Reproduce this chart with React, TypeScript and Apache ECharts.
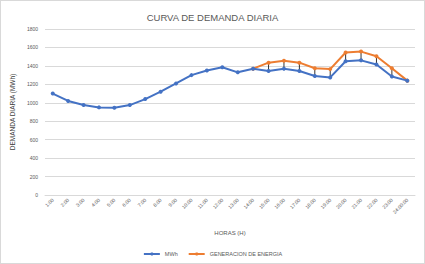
import React, { useEffect, useRef } from "react";
import * as echarts from "echarts";

const categories = [
  "1:00", "2:00", "3:00", "4:00", "5:00", "6:00", "7:00", "8:00", "9:00", "10:00",
  "11:00", "12:00", "13:00", "14:00", "15:00", "16:00", "17:00", "18:00", "19:00",
  "20:00", "21:00", "22:00", "23:00", "24:00:00",
];
const mwh = [
  1100, 1020, 975, 950, 945, 975, 1040, 1120, 1210, 1300, 1350, 1385, 1330, 1370,
  1345, 1370, 1345, 1290, 1275, 1450, 1460, 1415, 1285, 1240,
];
const generacion = [
  null, null, null, null, null, null, null, null, null, null, null, null, null, 1370,
  1435, 1455, 1435, 1375, 1365, 1545, 1555, 1505, 1375, 1240,
];
const yTicks = { min: 0, max: 1800, interval: 200 };

export default function App() {
  const ref = useRef<HTMLDivElement>(null);
  useEffect(() => {
    if (!ref.current) return;
    const chart = echarts.init(ref.current, null, { renderer: "svg" });
    const dropData = categories
      .map((_, i) => [i, mwh[i], generacion[i]])
      .filter((d) => d[2] != null);
    chart.setOption({
      animation: false,
      backgroundColor: "#ffffff",
      title: {
        text: "CURVA DE DEMANDA DIARIA",
        left: "center",
        top: 6,
        textStyle: { fontFamily: "Liberation Sans", fontSize: 9.5, fontWeight: "normal", color: "#595959" },
      },
      legend: {
        bottom: 1,
        left: "center",
        itemWidth: 16,
        itemHeight: 4,
        itemGap: 10,
        textStyle: { fontFamily: "Liberation Sans", fontSize: 5.5, color: "#595959" },
        data: ["MWh", "GENERACION DE ENERGIA"],
      },
      grid: { left: 42, right: 9, top: 28, bottom: 68 },
      xAxis: {
        type: "category",
        data: categories,
        boundaryGap: true,
        name: "HORAS (H)",
        nameLocation: "middle",
        nameGap: 35,
        nameTextStyle: { fontFamily: "Liberation Sans", fontSize: 6, color: "#595959" },
        axisLine: { lineStyle: { color: "#d9d9d9" } },
        axisTick: { show: false },
        axisLabel: {
          rotate: 45,
          interval: 0,
          fontFamily: "Liberation Sans",
          fontSize: 5,
          color: "#595959",
          margin: 4,
        },
      },
      yAxis: {
        type: "value",
        min: yTicks.min,
        max: yTicks.max,
        interval: yTicks.interval,
        name: "DEMANDA DIARIA (MWh)",
        nameLocation: "middle",
        nameGap: 16,
        nameTextStyle: { fontFamily: "Liberation Sans", fontSize: 6.5, color: "#404040" },
        axisLine: { show: false },
        axisTick: { show: false },
        axisLabel: {
          fontFamily: "Liberation Sans",
          fontSize: 5,
          color: "#595959",
          margin: 7,
          formatter: (v: number) => String(v),
        },
        splitLine: { lineStyle: { color: "#d9d9d9", width: 1 } },
      },
      series: [
        {
          type: "custom",
          name: "drop",
          silent: true,
          z: 1,
          data: dropData,
          renderItem: (params: any, api: any) => {
            const p1 = api.coord([api.value(0), api.value(1)]);
            const p2 = api.coord([api.value(0), api.value(2)]);
            return {
              type: "line",
              shape: { x1: p1[0], y1: p1[1], x2: p2[0], y2: p2[1] },
              style: { stroke: "#000000", lineWidth: 0.8 },
            };
          },
        },
        {
          name: "MWh",
          type: "line",
          data: mwh,
          z: 3,
          symbol: "circle",
          symbolSize: 4,
          lineStyle: { color: "#4472C4", width: 2 },
          itemStyle: { color: "#4472C4" },
        },
        {
          name: "GENERACION DE ENERGIA",
          type: "line",
          data: generacion,
          z: 2,
          symbol: "circle",
          symbolSize: 4,
          lineStyle: { color: "#ED7D31", width: 2 },
          itemStyle: { color: "#ED7D31" },
        },
      ],
    });
    return () => chart.dispose();
  }, []);
  return (
    <div
      style={{
        width: 423,
        height: 262,
        border: "1px solid #d9d9d9",
        position: "absolute",
        left: 0,
        top: 0,
      }}
    >
      <div ref={ref} style={{ width: 423, height: 262 }} />
    </div>
  );
}
